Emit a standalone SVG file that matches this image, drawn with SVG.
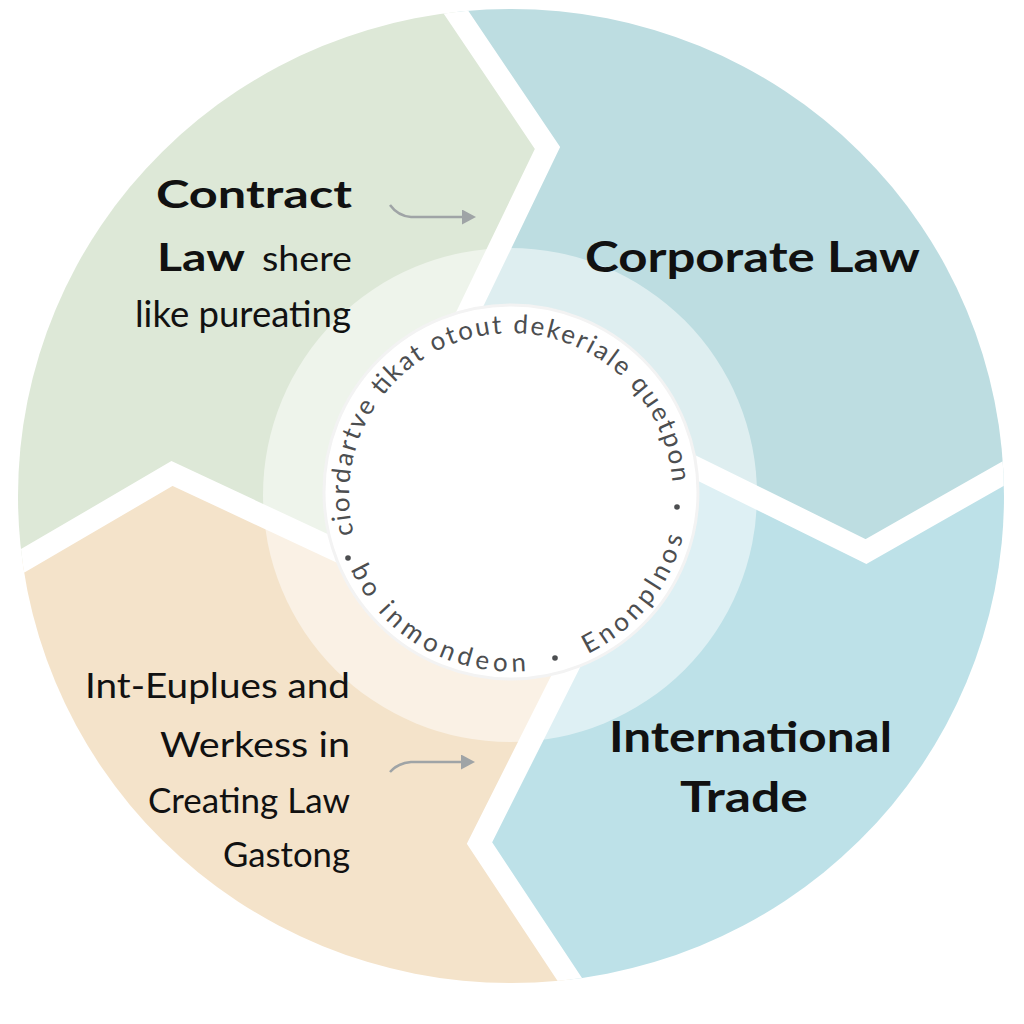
<svg xmlns="http://www.w3.org/2000/svg" width="1024" height="1024" viewBox="0 0 1024 1024">
  <defs>
    <style>
      .title { font-family: Lato, "Liberation Sans", sans-serif; font-weight: 700; fill: #111; }
      .body { font-family: Lato, "Liberation Sans", sans-serif; font-weight: 400; fill: #111; }
      .ring-text { font-family: Lato, "Liberation Sans", sans-serif; font-size: 26px; fill: #4c4e50; }
      .gap { fill: none; stroke: #ffffff; stroke-width: 22; stroke-linejoin: miter; stroke-miterlimit: 10; }
      .arrow { fill: none; stroke: #9fa4a6; stroke-width: 2.5; marker-end: url(#head); }
      .dot { fill: #4c4e50; }
    </style>
    <clipPath id="disc">
      <ellipse cx="511" cy="496" rx="493" ry="487"/>
    </clipPath>
    <marker id="head" viewBox="0 0 14 15" refX="1" refY="7.5" markerWidth="14" markerHeight="15" markerUnits="userSpaceOnUse" orient="auto">
      <path d="M0,0 L14,7.5 L0,15 Z" fill="#9fa4a6"/>
    </marker>
    <path id="arcTop" d="M358.7,550.4 A162,162 0 1 1 672.4,509.1"/>
    <path id="arcBottom" d="M336.7,525.7 A177,177 0 0 0 687.3,479.6"/>
  </defs>

  <rect width="1024" height="1024" fill="#ffffff"/>

  <g clip-path="url(#disc)">
    <g id="seg-contract">
      <polygon points="511,495 450,350 547.5,148 441,-10 -10,-10 -10,580 172,473.5 370,566" fill="#dde8d7"/>
    </g>
    <g id="seg-corporate">
      <polygon points="511,495 450,350 547.5,148 441,-10 1034,-10 1034,458 1030,458 866,551.5 660,450" fill="#bddde1"/>
    </g>
    <g id="seg-international">
      <polygon points="511,495 660,450 866,551.5 1030,458 1034,458 1034,1034 590,1034 585,1003 479.5,843 580,643" fill="#bde1e8"/>
    </g>
    <g id="seg-creating">
      <polygon points="511,495 580,643 479.5,843 585,1003 590,1034 -10,1034 -10,580 172,473.5 370,566" fill="#f4e3ca"/>
    </g>
    <g id="gaps">
      <polyline class="gap" points="441,-10 547.5,148 450,350"/>
      <polyline class="gap" points="-10,580 172,473.5 370,566"/>
      <polyline class="gap" points="580,643 479.5,843 590,1010"/>
      <polyline class="gap" points="660,450 866,551.5 1034,456"/>
    </g>
  </g>

  <g id="center">
    <circle cx="510" cy="495" r="247" fill="#ffffff" fill-opacity="0.5"/>
    <circle cx="511" cy="492" r="187" fill="#ffffff" stroke="#f3f3f3" stroke-width="3"/>
    <text class="ring-text"><textPath href="#arcTop" startOffset="17" textLength="535" lengthAdjust="spacing">ciordartve tikat otout dekeriale quetpon</textPath></text>
    <text class="ring-text"><textPath href="#arcBottom" startOffset="46" textLength="216" lengthAdjust="spacing">bo inmondeon</textPath></text>
    <text class="ring-text"><textPath href="#arcBottom" startOffset="326" textLength="156" lengthAdjust="spacing">Enonplnos</textPath></text>
    <circle class="dot" cx="348" cy="558" r="2.8"/>
    <circle class="dot" cx="555" cy="658" r="2.8"/>
    <circle class="dot" cx="677" cy="507" r="2.8"/>
  </g>

  <g id="label-contract">
    <text class="title" x="156" y="208" font-size="39" textLength="196" lengthAdjust="spacingAndGlyphs">Contract</text>
    <text class="title" x="157" y="271" font-size="39" textLength="88" lengthAdjust="spacingAndGlyphs">Law</text>
    <text class="body" x="262" y="271" font-size="35" textLength="90" lengthAdjust="spacingAndGlyphs">shere</text>
    <text class="body" x="135" y="327" font-size="36" textLength="216" lengthAdjust="spacingAndGlyphs">like pureating</text>
  </g>

  <g id="label-corporate">
    <text class="title" x="585" y="272" font-size="42" textLength="335" lengthAdjust="spacingAndGlyphs">Corporate Law</text>
  </g>

  <g id="label-international">
    <text class="title" x="609" y="752" font-size="42" textLength="283" lengthAdjust="spacingAndGlyphs">International</text>
    <text class="title" x="680" y="812" font-size="42" textLength="128" lengthAdjust="spacingAndGlyphs">Trade</text>
  </g>

  <g id="label-creating">
    <text class="body" x="85" y="698" font-size="35" textLength="265" lengthAdjust="spacingAndGlyphs">Int-Euplues and</text>
    <text class="body" x="160" y="757" font-size="35" textLength="190" lengthAdjust="spacingAndGlyphs">Werkess in</text>
    <text class="body" x="148" y="813" font-size="35" textLength="202" lengthAdjust="spacingAndGlyphs">Creating Law</text>
    <text class="body" x="223" y="867" font-size="35" textLength="127" lengthAdjust="spacingAndGlyphs">Gastong</text>
  </g>

  <g id="connectors">
    <path class="arrow" d="M390,205 Q398,216 411,217 L463,217"/>
    <path class="arrow" d="M390,772 Q398,763 411,762 L462,762"/>
  </g>
</svg>
